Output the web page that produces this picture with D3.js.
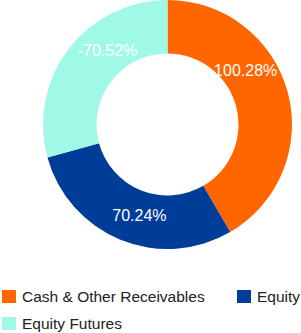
<!DOCTYPE html>
<html>
<head>
<meta charset="utf-8">
<script src="https://cdn.jsdelivr.net/npm/d3@7"></script>
<style>
  body { margin: 0; background: #fff; }
  svg { display: block; font-family: "Liberation Sans", Arial, sans-serif; }
</style>
</head>
<body>
<svg id="chart"></svg>
<script>
// data
var categories = ["Cash & Other Receivables", "Equity", "Equity Futures"];
var values = [100.28, 70.24, -70.52];
var labels = ["100.28%", "70.24%", "-70.52%"];
var colors = ["#ff6600", "#003d99", "#a0f9e7"];

var screen = {width: 301, height: 333};
var cx = 167.5, cy = 124.5;
var outerR = 124.5, innerR = 71, labelR = 95;
// labels in the original sit a bit off the slice middle
var labelShift = [-19.5, -5, 13.5];

var svg = d3.select("#chart")
    .attr("width", screen.width)
    .attr("height", screen.height);

var slices = categories.map(function(c, i) {
    return {name: c, value: values[i], label: labels[i], color: colors[i]};
});

var pie = d3.pie()
    .sort(null)
    .value(function(d) { return Math.abs(d.value); });

var arc = d3.arc()
    .innerRadius(innerR)
    .outerRadius(outerR);

var g = svg.append("g")
    .attr("transform", "translate(" + cx + "," + cy + ")");

var arcs = pie(slices);

g.selectAll("path")
    .data(arcs)
    .enter()
    .append("path")
    .attr("d", arc)
    .attr("fill", function(d) { return d.data.color; });

g.selectAll("text")
    .data(arcs)
    .enter()
    .append("text")
    .attr("x", function(d, i) {
        var a = (d.startAngle + d.endAngle) / 2 + labelShift[i] * Math.PI / 180;
        return labelR * Math.sin(a);
    })
    .attr("y", function(d, i) {
        var a = (d.startAngle + d.endAngle) / 2 + labelShift[i] * Math.PI / 180;
        return -labelR * Math.cos(a);
    })
    .attr("dy", "0.35em")
    .attr("text-anchor", "middle")
    .attr("fill", "#fff")
    .style("font-size", "16px")
    .text(function(d) { return d.data.label; });

// legend
var legendPos = [{x: 2, y: 290}, {x: 237, y: 290}, {x: 2, y: 317}];

var legend = svg.selectAll("g.legend")
    .data(slices)
    .enter()
    .append("g")
    .attr("class", "legend")
    .attr("transform", function(d, i) {
        return "translate(" + legendPos[i].x + "," + legendPos[i].y + ")";
    });

legend.append("rect")
    .attr("width", 14)
    .attr("height", 13)
    .attr("fill", function(d) { return d.color; });

legend.append("text")
    .attr("x", 20)
    .attr("y", 11.5)
    .attr("fill", "#222")
    .style("font-size", "15.5px")
    .text(function(d) { return d.name; });
</script>
</body>
</html>
